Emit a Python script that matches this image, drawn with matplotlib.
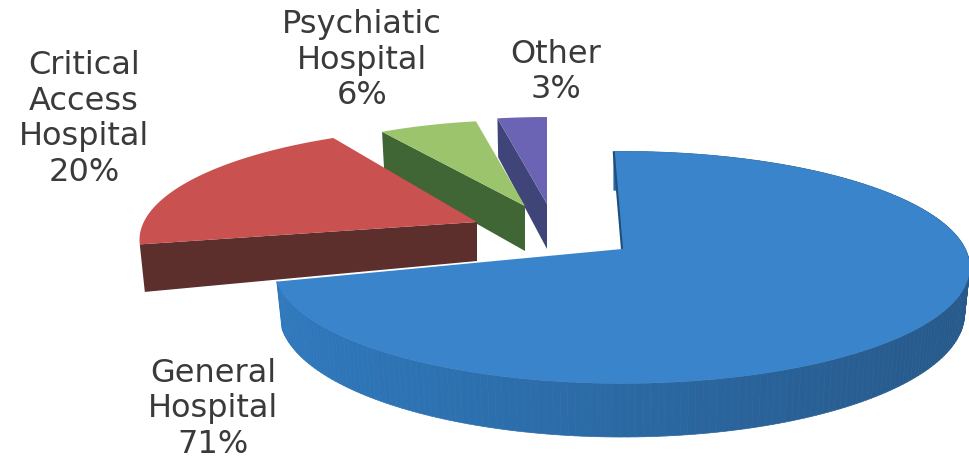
import numpy as np
from matplotlib import pyplot as plt
from matplotlib.collections import PolyCollection
from matplotlib.colors import to_rgb

# data, clockwise from 12 o'clock
categories = ['General\nHospital', 'Critical\nAccess\nHospital', 'Psychiatic\nHospital', 'Other']
shares = [71, 20, 6, 3]

# look of each slice
top_colors = ['#3a84cb', '#c9514f', '#9cc46c', '#6b63b3']
wall_colors = ['#1f4e79', '#5c2e2c', '#3f6634', '#3f4578']
apex_x = [622, 477, 525, 547]
apex_y = [250, 223, 207, 205]
slice_scale = [1.01, 0.98, 0.89, 0.9]
slice_turn = [-1.6, 3.0, 0.0, 0.0]
slice_depth = [45, 39, 45, 45]
slice_flare = [1.0, 1.18, 1.0, 1.0]
label_x = [213, 84, 362, 556]
label_y = [409, 119, 60, 72]

# pie seen in perspective
K = 0.159
A = 112.0
B = 340.0
SLANT = 0.985


def project(angle, scale, ax0, ay0):
    X = np.sin(np.radians(angle))
    Y = np.cos(np.radians(angle))
    w = 1 + K * Y
    return ax0 + scale * B * X / w, ay0 - scale * A * Y / w, 1 / w


def drop(x, y, w, ax0, depth):
    return ax0 + (x - ax0) * SLANT, y + depth * w


fig = plt.figure(figsize=(9.69, 4.6), dpi=100)
ax = fig.add_axes([0, 0, 1, 1])
ax.set_xlim(0, 969)
ax.set_ylim(460, 0)
ax.axis('off')

edges = np.cumsum([0] + shares) * 360.0 / sum(shares)

# back slices first
for i in [3, 2, 1, 0]:
    a0 = edges[i] + slice_turn[i]
    a1 = edges[i + 1] + slice_turn[i]
    t = np.linspace(a0, a1, 240)
    x, y, w = project(t, slice_scale[i], apex_x[i], apex_y[i])
    bx, by = drop(x, y, w, apex_x[i], slice_depth[i] * slice_flare[i])
    px = apex_x[i]
    py = apex_y[i]
    qy = py + slice_depth[i]

    if i == 0:
        # outer rim, darker towards the right
        light = np.array(to_rgb('#2f79bd'))
        dark = np.array(to_rgb('#27598a'))
        polys = []
        cols = []
        for j in range(len(t) - 1):
            polys.append([(x[j], y[j]), (x[j + 1], y[j + 1]), (bx[j + 1], by[j + 1]), (bx[j], by[j])])
            f = np.clip((bx[j] - 280) / 690, 0, 1)
            cols.append(light + (dark - light) * f)
        ax.add_collection(PolyCollection(polys, facecolors=cols, edgecolors=cols, linewidths=0.5))
    else:
        # cut face on the left side
        ax.fill([x[0], px, px, bx[0]], [y[0], py, qy, by[0]], color=wall_colors[i], lw=0)

    ax.fill(np.r_[px, x], np.r_[py, y], color=top_colors[i], lw=0)
    if i == 0:
        ax.plot([x[0], px], [y[0], py], color=wall_colors[0], lw=1.5, solid_capstyle='butt')

    lines = categories[i] + '\n%d%%' % shares[i]
    ax.text(label_x[i], label_y[i], lines, ha='center', va='center', fontsize=23,
            color='#3a3a3a', linespacing=1.2, family='DejaVu Sans')

plt.savefig('out.png', dpi=100)
